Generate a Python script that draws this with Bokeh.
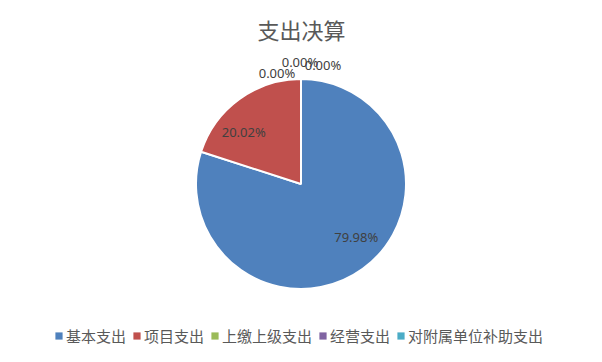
import math
from bokeh.plotting import figure
from bokeh.models import ColumnDataSource, Range1d, Legend, LegendItem, Label
from bokeh.core.properties import value
from bokeh.embed import file_html
from bokeh.resources import INLINE

title = "支出决算"
categories = ["基本支出", "项目支出", "上缴上级支出", "经营支出", "对附属单位补助支出"]
percents = [79.98, 20.02, 0.00, 0.00, 0.00]
colors = ["#4F81BD", "#C0504D", "#9BBB59", "#8064A2", "#4BACC6"]

# label placement style (pixel offsets from the computed anchor; +dy = down)
label_radius = [0.70, 0.70, 1.12, 1.12, 1.12]
label_dx = [12, -14, -24, -1, 22]
label_dy = [-6, 7, 7, -4, -1]

W, H = 602, 362
cx, cy, R = 300.5, 362 - 183.5, 105

total = sum(percents)
starts, ends, lx, ly, texts = [], [], [], [], []
acc = 0.0
for i, v in enumerate(percents):
    a0 = math.pi / 2 - acc / total * 2 * math.pi
    acc += v
    a1 = math.pi / 2 - acc / total * 2 * math.pi
    starts.append(a0)
    ends.append(a1)
    mid = (a0 + a1) / 2
    lx.append(cx + label_radius[i] * R * math.cos(mid))
    ly.append(cy + label_radius[i] * R * math.sin(mid))
    texts.append(f"{v:.2f}%")

nz = [i for i, v in enumerate(percents) if v > 0]
src = ColumnDataSource(dict(start=[starts[i] for i in nz], end=[ends[i] for i in nz],
                            color=[colors[i] for i in nz]))
lsrc = ColumnDataSource(dict(x=lx, y=ly, t=texts, dx=label_dx, dy=label_dy))
legsrc = ColumnDataSource(dict(cat=categories, color=colors,
                               x=[cx] * len(categories), y=[cy] * len(categories)))

p = figure(width=W, height=H, output_backend="svg", toolbar_location=None,
           x_range=Range1d(0, W), y_range=Range1d(0, H), min_border=0)
p.axis.visible = False
p.grid.visible = False
p.outline_line_color = None
p.background_fill_color = "white"

p.wedge(x=cx, y=cy, radius=R, start_angle="start", end_angle="end",
        direction="clock", fill_color="color", line_color="white",
        line_width=2, source=src)

p.text(x="x", y="y", text="t", x_offset="dx", y_offset="dy", source=lsrc,
       text_align="center", text_baseline="middle", text_font_size="13px",
       text_font=value("Noto Sans"), text_color="#404040")

p.add_layout(Label(x=W / 2, y=H - 28, text=title, text_align="center",
                   text_baseline="middle", text_font_size="22px",
                   text_font="Noto Sans CJK SC", text_color="#595959"))

# zero-size rects: only used to provide legend swatches
rr = p.rect(x="x", y="y", width=0, height=0, fill_color="color", line_alpha=0,
            source=legsrc)
items = [LegendItem(label=c, renderers=[rr], index=i) for i, c in enumerate(categories)]
leg = Legend(items=items, orientation="horizontal", location=(54, 16),
             padding=0, margin=0, spacing=6, label_standoff=3,
             glyph_width=9, glyph_height=9, border_line_color=None,
             background_fill_alpha=0, label_text_font_size="15px",
             label_text_font="Noto Sans CJK SC", label_text_color="#595959")
p.add_layout(leg)

open("out.html", "w").write(file_html(p, INLINE))
